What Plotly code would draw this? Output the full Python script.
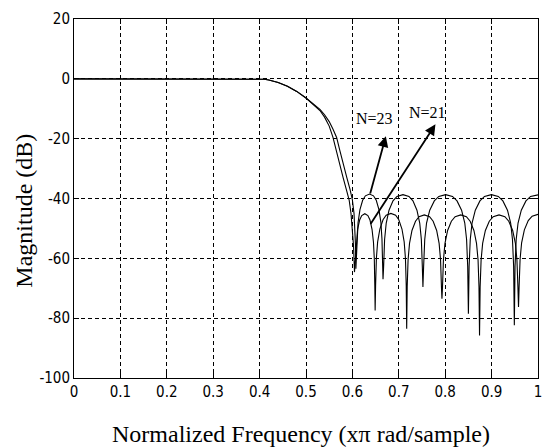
import plotly.graph_objects as go

# ---- data ----
# lower-sidelobe curve (labelled N=21)
freq_n21 = [0, 0.1, 0.2, 0.3, 0.4, 0.41, 0.42, 0.44, 0.46, 0.48, 0.50, 0.515,
            0.52, 0.53, 0.54, 0.55, 0.558, 0.565, 0.572, 0.58, 0.587, 0.593, 0.597, 0.600, 0.6025, 0.6045,
            0.6063, 0.6081, 0.6112, 0.6156, 0.6201, 0.6268, 0.6334, 0.6379, 0.6423, 0.6454, 0.6472, 0.6483, 0.649,
            0.6500, 0.6517, 0.6544, 0.6592, 0.666, 0.6728, 0.683, 0.6932, 0.700, 0.7068, 0.7116, 0.7143, 0.716, 0.717,
            0.7181, 0.720, 0.7231, 0.7284, 0.736, 0.7436, 0.755, 0.7664, 0.774, 0.7816, 0.7869, 0.790, 0.7919, 0.793,
            0.7942, 0.7962, 0.7995, 0.8052, 0.8133, 0.8214, 0.8335, 0.8457, 0.8538, 0.8619, 0.8675, 0.8708, 0.8728, 0.874,
            0.8753, 0.8774, 0.8807, 0.8866, 0.895, 0.9034, 0.916, 0.9286, 0.937, 0.9454, 0.9513, 0.9546, 0.9567, 0.958,
            0.9593, 0.9614, 0.9647, 0.9706, 0.979, 0.9874, 1.0]
mag_n21 = [0, 0, 0, 0, 0, -0.15, -0.4, -1.2, -2.5, -4.2, -6.4, -8.4,
           -9.0, -10.6, -12.8, -15.8, -19.5, -24, -28.5, -33, -37, -40.5, -45, -50, -56, -64.6,
           -60.1, -54.6, -50.3, -47.2, -45.7, -45.1, -45.7, -47.2, -50.3, -54.6, -60.1, -69.1, -77.4,
           -69, -60, -54.5, -50.2, -47.1, -45.6, -45, -45.6, -47.1, -50.2, -54.5, -60, -69, -83.5,
           -69.5, -60.5, -55, -50.7, -47.6, -46.1, -45.5, -46.1, -47.6, -50.7, -55, -60.5, -69.5, -73.5,
           -69.5, -60.5, -55, -50.7, -47.6, -46.1, -45.5, -46.1, -47.6, -50.7, -55, -60.5, -69.5, -85.8,
           -69.5, -60.5, -55, -50.7, -47.6, -46.1, -45.5, -46.1, -47.6, -50.7, -55, -60.5, -69.5, -76.3,
           -69.3, -60.3, -54.8, -50.5, -47.4, -45.9, -45.3]

# upper-sidelobe curve (labelled N=23)
freq_n23 = [0, 0.1, 0.2, 0.3, 0.4, 0.41, 0.42, 0.44, 0.46, 0.48, 0.50, 0.515,
            0.52, 0.53, 0.54, 0.55, 0.558, 0.566, 0.573, 0.58, 0.588, 0.595, 0.600, 0.6035, 0.6055, 0.6068, 0.6075,
            0.6098, 0.6122, 0.6163, 0.6221, 0.6280, 0.6368, 0.6455, 0.6514, 0.6572, 0.6614, 0.6637, 0.6651, 0.666,
            0.6673, 0.6694, 0.6729, 0.6789, 0.6875, 0.6961, 0.709, 0.7219, 0.7305, 0.7391, 0.7451, 0.7486, 0.7507, 0.752,
            0.7535, 0.7559, 0.7598, 0.7667, 0.7765, 0.7863, 0.801, 0.8157, 0.8255, 0.8353, 0.8422, 0.8461, 0.8485, 0.850,
            0.8515, 0.854, 0.8579, 0.8649, 0.8748, 0.8847, 0.8995, 0.9144, 0.9243, 0.9342, 0.9411, 0.945, 0.9475, 0.949,
            0.9505, 0.953, 0.957, 0.964, 0.974, 0.984, 1.0]
mag_n23 = [0, 0, 0, 0, 0, -0.15, -0.4, -1.2, -2.5, -4.2, -6.4, -8.4,
           -8.8, -10.2, -12.0, -14.3, -16.8, -19.6, -24, -28.5, -33, -37, -40.5, -45, -50, -56, -63.5,
           -53.5, -48, -43.7, -40.6, -39.1, -38.5, -39.1, -40.6, -43.7, -48, -53.5, -62.5, -67,
           -62.7, -53.7, -48.2, -43.9, -40.8, -39.3, -38.7, -39.3, -40.8, -43.9, -48.2, -53.7, -62.7, -69.6,
           -62.7, -53.7, -48.2, -43.9, -40.8, -39.3, -38.7, -39.3, -40.8, -43.9, -48.2, -53.7, -62.7, -78.5,
           -62.7, -53.7, -48.2, -43.9, -40.8, -39.3, -38.7, -39.3, -40.8, -43.9, -48.2, -53.7, -62.7, -82.4,
           -62.7, -53.7, -48.2, -43.9, -40.8, -39.3, -38.8]

x_ticks = [0, 0.1, 0.2, 0.3, 0.4, 0.5, 0.6, 0.7, 0.8, 0.9, 1]
x_labels = ["0", "0.1", "0.2", "0.3", "0.4", "0.5", "0.6", "0.7", "0.8", "0.9", "1"]
y_ticks = [20, 0, -20, -40, -60, -80, -100]
y_labels = ["20", "0", "-20", "-40", "-60", "-80", "-100"]

# arrow annotations: label, label position, arrow tail, arrow head
arrow_labels = ["N=23", "N=21"]
label_pos = [(0.6476, -13.3), (0.7617, -11.1)]
arrow_tail = [(0.6375, -38.8), (0.637, -49.0)]
arrow_head = [(0.672, -19.2), (0.779, -15.2)]

fig = go.Figure()
fig.add_trace(go.Scatter(x=freq_n21, y=mag_n21, mode="lines",
                         line=dict(color="black", width=1.1), name="N=21"))
fig.add_trace(go.Scatter(x=freq_n23, y=mag_n23, mode="lines",
                         line=dict(color="black", width=1.1), name="N=23"))

tick_font = dict(family="Liberation Sans Narrow, DejaVu Sans Condensed, Arial Narrow, sans-serif",
                 size=15, color="black")

fig.update_xaxes(range=[0, 1], tickvals=x_ticks, ticktext=x_labels,
                 showline=True, linecolor="black", linewidth=1, mirror="allticks",
                 ticks="inside", ticklen=5, tickcolor="black",
                 showgrid=True, gridcolor="black", gridwidth=1, griddash="4px,3px",
                 zeroline=False, tickfont=tick_font, automargin=False)
fig.update_yaxes(range=[-100, 20], tickvals=y_ticks, ticktext=y_labels,
                 showline=True, linecolor="black", linewidth=1, mirror="allticks",
                 ticks="inside", ticklen=5, tickcolor="black",
                 showgrid=True, gridcolor="black", gridwidth=1, griddash="4px,3px",
                 zeroline=False, tickfont=tick_font, automargin=False)

annotations = []
for lab, (lx, ly), (tx, ty), (hx, hy) in zip(arrow_labels, label_pos, arrow_tail, arrow_head):
    annotations.append(dict(x=hx, y=hy, ax=tx, ay=ty, xref="x", yref="y", axref="x", ayref="y",
                            text="", showarrow=True, arrowhead=2, arrowsize=1.2, arrowwidth=1.8,
                            arrowcolor="black"))
    annotations.append(dict(x=lx, y=ly, xref="x", yref="y", text=lab, showarrow=False,
                            font=dict(family="Liberation Serif, Times New Roman, serif", size=16,
                                      color="black")))

serif = "Liberation Serif, Times New Roman, serif"
annotations.append(dict(x=0.4898, y=-0.155, xref="paper", yref="paper",
                        text="Normalized Frequency (x\u03c0 rad/sample)", showarrow=False,
                        xanchor="center", yanchor="middle",
                        font=dict(family=serif, size=24, color="black")))
annotations.append(dict(x=-0.1066, y=0.4648, xref="paper", yref="paper",
                        text="Magnitude (dB)", showarrow=False, textangle=-90,
                        xanchor="center", yanchor="middle",
                        font=dict(family=serif, size=24, color="black")))

fig.update_layout(width=544, height=448, margin=dict(l=73.5, r=6, t=18.7, b=70),
                  paper_bgcolor="white", plot_bgcolor="white", showlegend=False,
                  annotations=annotations)

# remove the default page margin so the figure sits at the window's top-left corner
fig.write_html("out.html", config={"displayModeBar": False},
               post_script="document.body.style.margin='0';document.body.style.overflow='hidden';")
